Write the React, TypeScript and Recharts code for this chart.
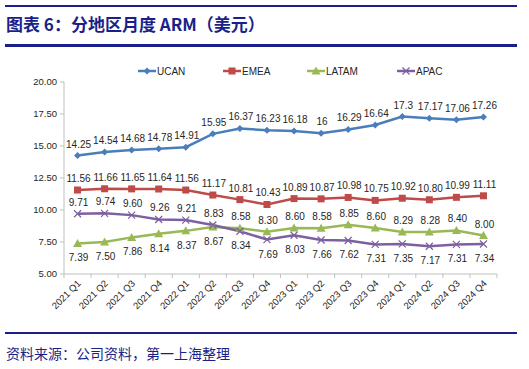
import React from "react";
import { LineChart, Line, XAxis, YAxis, LabelList } from "recharts";

const quarters = [
  "2021 Q1", "2021 Q2", "2021 Q3", "2021 Q4",
  "2022 Q1", "2022 Q2", "2022 Q3", "2022 Q4",
  "2023 Q1", "2023 Q2", "2023 Q3", "2023 Q4",
  "2024 Q1", "2024 Q2", "2024 Q3", "2024 Q4",
];

const ucan = [14.25, 14.54, 14.68, 14.78, 14.91, 15.95, 16.37, 16.23, 16.18, 16, 16.29, 16.64, 17.3, 17.17, 17.06, 17.26];
const emea = [11.56, 11.66, 11.65, 11.64, 11.56, 11.17, 10.81, 10.43, 10.89, 10.87, 10.98, 10.75, 10.92, 10.8, 10.99, 11.11];
const latam = [7.39, 7.5, 7.86, 8.14, 8.37, 8.67, 8.58, 8.3, 8.6, 8.58, 8.85, 8.6, 8.29, 8.28, 8.4, 8.0];
const apac = [9.71, 9.74, 9.6, 9.26, 9.21, 8.83, 8.34, 7.69, 8.03, 7.66, 7.62, 7.31, 7.35, 7.17, 7.31, 7.34];

const yTicks = [5, 7.5, 10, 12.5, 15, 17.5, 20];

const COLORS = {
  ucan: "#4a7ebb",
  emea: "#be4b48",
  latam: "#98b954",
  apac: "#7d60a0",
};

const NAVY = "#1b1f8a";
const FONT = "'Liberation Sans', Arial, sans-serif";
const CJK = "'Noto Sans CJK SC', sans-serif";

const W = 529;
const CH = 270;
const LEFT = 64;
const RIGHT = 32;
const HALF_BAND = (W - LEFT - RIGHT) / quarters.length / 2;

const data = quarters.map((q, i) => ({
  q,
  ucan: ucan[i],
  emea: emea[i],
  latam: latam[i],
  apac: apac[i],
}));

// labels above for UCAN/EMEA; for LATAM/APAC the higher of the pair goes above
function makeLabel(key: string, fmt: (v: number) => string) {
  return (props: any) => {
    const { x, y, index, value } = props;
    let above = true;
    if (key === "latam") above = latam[index] > apac[index];
    if (key === "apac") above = apac[index] >= latam[index];
    return (
      <text
        x={x + 1}
        y={above ? y - 8 : y + 18}
        textAnchor="middle"
        fontSize={10}
        fontFamily={FONT}
        fill="#262626"
      >
        {fmt(Number(value))}
      </text>
    );
  };
}

function Diamond(props: any) {
  const { cx, cy } = props;
  if (cx == null) return null;
  return <path d={`M${cx},${cy - 3.5}L${cx + 3.5},${cy}L${cx},${cy + 3.5}L${cx - 3.5},${cy}Z`} fill={COLORS.ucan} />;
}

function Square(props: any) {
  const { cx, cy } = props;
  if (cx == null) return null;
  return <rect x={cx - 3.5} y={cy - 3.5} width={7} height={7} fill={COLORS.emea} />;
}

function Tri(props: any) {
  const { cx, cy } = props;
  if (cx == null) return null;
  return <path d={`M${cx},${cy - 4.5}L${cx + 4.5},${cy + 3.5}L${cx - 4.5},${cy + 3.5}Z`} fill={COLORS.latam} />;
}

function Cross(props: any) {
  const { cx, cy } = props;
  if (cx == null) return null;
  return (
    <path
      d={`M${cx - 3.5},${cy - 3.5}L${cx + 3.5},${cy + 3.5}M${cx + 3.5},${cy - 3.5}L${cx - 3.5},${cy + 3.5}`}
      stroke={COLORS.apac}
      strokeWidth={1.2}
      fill="none"
    />
  );
}

function XTick(props: any) {
  const { x, y, payload, index } = props;
  const last = index === quarters.length - 1;
  return (
    <g>
      <line x1={x - HALF_BAND} y1={y - 8} x2={x - HALF_BAND} y2={y - 4} stroke="#bfbfbf" />
      {last && <line x1={x + HALF_BAND} y1={y - 8} x2={x + HALF_BAND} y2={y - 4} stroke="#bfbfbf" />}
      <text
        x={x + 4}
        y={y + 2}
        textAnchor="end"
        fontSize={9.5}
        fontFamily={FONT}
        fill="#262626"
        transform={`rotate(-45, ${x + 4}, ${y + 2})`}
      >
        {payload.value}
      </text>
    </g>
  );
}

const legendItems = [
  { name: "UCAN", color: COLORS.ucan, left: 138, shape: Diamond },
  { name: "EMEA", color: COLORS.emea, left: 223, shape: Square },
  { name: "LATAM", color: COLORS.latam, left: 307, shape: Tri },
  { name: "APAC", color: COLORS.apac, left: 397, shape: Cross },
];

export default function App() {
  return (
    <div style={{ position: "absolute", left: 0, top: 0, width: W, height: 369, background: "#fff", overflow: "hidden" }}>
      <div style={{ position: "absolute", left: 5, top: 5, width: 512, height: 2, background: NAVY }} />
      <div
        style={{
          position: "absolute",
          left: 6,
          top: 12,
          fontFamily: CJK,
          fontWeight: 700,
          fontSize: 17,
          lineHeight: "24px",
          color: NAVY,
          whiteSpace: "nowrap",
        }}
      >
        图表 6：分地区月度 ARM（美元）
      </div>
      <div style={{ position: "absolute", left: 5, top: 44, width: 512, height: 3, background: NAVY }} />

      {legendItems.map((it) => {
        const S = it.shape;
        return (
          <div key={it.name} style={{ position: "absolute", left: it.left, top: 64, height: 14, display: "flex", alignItems: "center" }}>
            <svg width={18} height={14}>
              <line x1={0} y1={7} x2={18} y2={7} stroke={it.color} strokeWidth={2.5} />
              <S cx={9} cy={7} />
            </svg>
            <span style={{ fontFamily: FONT, fontSize: 10, color: "#262626", marginLeft: 1 }}>{it.name}</span>
          </div>
        );
      })}

      <div style={{ position: "absolute", left: 0, top: 50 }}>
        <LineChart width={W} height={CH} data={data} margin={{ top: 32, right: RIGHT, bottom: 0, left: 0 }}>
          <XAxis
            dataKey="q"
            interval={0}
            height={46}
            padding={{ left: HALF_BAND, right: HALF_BAND }}
            axisLine={{ stroke: "#bfbfbf" }}
            tickLine={false}
            tick={<XTick />}
          />
          <YAxis
            width={LEFT}
            domain={[5, 20]}
            ticks={yTicks}
            interval={0}
            axisLine={{ stroke: "#bfbfbf" }}
            tickLine={{ stroke: "#bfbfbf" }}
            tickSize={4}
            tickMargin={3}
            tick={{ fontSize: 9.5, fill: "#262626", fontFamily: FONT }}
            tickFormatter={(v: number) => v.toFixed(2)}
          />
          <Line dataKey="ucan" stroke={COLORS.ucan} strokeWidth={2.5} dot={<Diamond />} isAnimationActive={false}>
            <LabelList dataKey="ucan" content={makeLabel("ucan", (v) => String(v))} />
          </Line>
          <Line dataKey="emea" stroke={COLORS.emea} strokeWidth={2.5} dot={<Square />} isAnimationActive={false}>
            <LabelList dataKey="emea" content={makeLabel("emea", (v) => v.toFixed(2))} />
          </Line>
          <Line dataKey="latam" stroke={COLORS.latam} strokeWidth={2.5} dot={<Tri />} isAnimationActive={false}>
            <LabelList dataKey="latam" content={makeLabel("latam", (v) => v.toFixed(2))} />
          </Line>
          <Line dataKey="apac" stroke={COLORS.apac} strokeWidth={2.5} dot={<Cross />} isAnimationActive={false}>
            <LabelList dataKey="apac" content={makeLabel("apac", (v) => v.toFixed(2))} />
          </Line>
        </LineChart>
      </div>

      <div style={{ position: "absolute", left: 5, top: 332, width: 512, height: 2, background: NAVY }} />
      <div
        style={{
          position: "absolute",
          left: 6,
          top: 343,
          fontFamily: CJK,
          fontSize: 14,
          lineHeight: "20px",
          color: NAVY,
          whiteSpace: "nowrap",
        }}
      >
        资料来源：公司资料，第一上海整理
      </div>
    </div>
  );
}
